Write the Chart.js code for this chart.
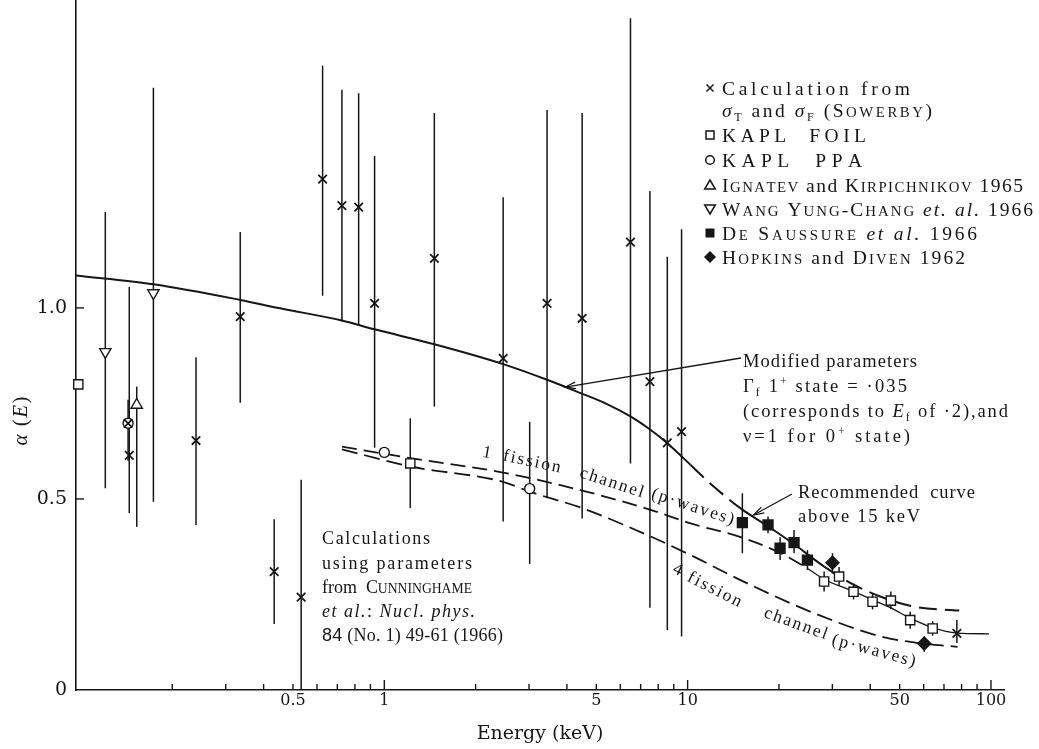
<!DOCTYPE html>
<html><head><meta charset="utf-8">
<style>html,body{margin:0;padding:0;background:#fff;}canvas{display:block;}</style>
<script src="https://cdn.jsdelivr.net/npm/chart.js@4.4.1/dist/chart.umd.min.js"></script>
</head><body>
<canvas id="c" width="1039" height="749"></canvas>
<script>
// ---------------- data (energy in keV, alpha) ----------------
const sowerbyE  = [0.1443, 0.143, 0.2395, 0.335, 0.4335, 0.532, 0.626, 0.725, 0.823, 0.929, 1.462, 2.465, 3.44, 4.49, 6.48, 7.51, 8.57, 9.55, 77.2];
const sowerbyA  = [0.614, 0.698, 0.653, 0.977, 0.310, 0.243, 1.337, 1.268, 1.264, 1.012, 1.130, 0.868, 1.012, 0.973, 1.172, 0.807, 0.647, 0.676, 0.148];
const sowerbyLo = [0.463, null, 0.432, 0.752, 0.173, 0.0, 1.032, 0.964, 0.955, 0.634, 0.742, 0.441, 0.502, 0.449, 0.593, 0.215, 0.157, 0.140, 0.123];
const sowerbyHi = [1.055, null, 0.871, 1.199, 0.447, 0.550, 1.634, 1.571, 1.562, 1.398, 1.510, 1.290, 1.518, 1.510, 1.758, 1.306, 1.134, 1.206, 0.183];

const foilE  = [0.098, 1.218, 28.18, 31.57, 35.23, 40.70, 46.77, 54.17, 64.23];
const foilA  = [0.80, 0.593, 0.284, 0.297, 0.257, 0.231, 0.234, 0.183, 0.161];
const foilLo = [null, 0.476, 0.258, 0.272, 0.237, 0.211, 0.212, 0.160, 0.142];
const foilHi = [null, 0.711, 0.310, 0.322, 0.278, 0.252, 0.258, 0.205, 0.180];

const ppaE  = [0.143, 1.0, 3.015];
const ppaA  = [0.698, 0.622, 0.527];
const ppaLo = [0.600, null, 0.330];
const ppaHi = [0.760, null, 0.702];

const ignatevE  = [0.1527];
const ignatevA  = [0.746];
const ignatevLo = [0.427];
const ignatevHi = [0.794];

const wangE  = [0.1203, 0.1733];
const wangA  = [0.885, 1.039];
const wangLo = [0.528, 0.493];
const wangHi = [1.251, 1.576];

const desaussureE  = [15.15, 18.41, 20.17, 22.43, 24.83];
const desaussureA  = [0.438, 0.432, 0.371, 0.386, 0.340];
const desaussureLo = [0.358, 0.410, 0.340, 0.358, 0.314];
const desaussureHi = [0.515, 0.454, 0.400, 0.419, 0.366];

const hopkinsE  = [30.03, 60.25];
const hopkinsA  = [0.333, 0.122];
const hopkinsLo = [0.305, 0.100];
const hopkinsHi = [0.358, 0.140];

const modifiedE = [0.0963, 0.1733, 0.335, 0.4536, 0.725, 0.929, 1.462, 2.465, 3.44, 4.44, 5.4, 6.48, 7.54, 8.57, 9.48, 10.23, 12.21, 15.15, 18.3, 22.4, 28.2, 35.4, 43.35, 55.8, 78.6];
const modifiedA = [1.085, 1.062, 1.021, 0.999, 0.967, 0.944, 0.905, 0.853, 0.812, 0.777, 0.749, 0.716, 0.681, 0.646, 0.614, 0.589, 0.532, 0.472, 0.430, 0.382, 0.323, 0.275, 0.244, 0.218, 0.208];

const fission1E = [0.725, 1.218, 2.465, 4.49, 7.59, 10.23, 14.96, 20.28, 24.83, 28.18, 35.2, 40.7, 46.8, 54.2, 64.2, 77.2, 98.5];
const fission1A = [0.637, 0.607, 0.569, 0.522, 0.471, 0.436, 0.400, 0.358, 0.318, 0.290, 0.258, 0.236, 0.215, 0.188, 0.163, 0.149, 0.147];

const fission4E = [0.725, 1.218, 2.465, 3.015, 4.49, 7.59, 10.23, 15.74, 26.12, 43.35, 58.7, 77.6];
const fission4A = [0.630, 0.585, 0.545, 0.519, 0.476, 0.401, 0.353, 0.279, 0.201, 0.140, 0.122, 0.113];

const xTickValues  = [0.2,0.3,0.4,0.5,0.6,0.7,0.8,0.9,1,2,3,4,5,6,7,8,9,10,20,30,40,50,60,70,80,90,100];
const xLabelValues = [0.5, 1, 5, 10, 50, 100];
const yTickValues  = [0, 0.5, 1.0];
const yTickLabels  = ['0', '0.5', '1.0'];

// ---------------- styling helpers ----------------
const SERIF = "'DejaVu Serif', 'Liberation Serif', serif";
const TEXT = "'Liberation Serif', 'DejaVu Serif', serif";
const SANS = "'Liberation Sans', 'DejaVu Sans', sans-serif";
const INK = '#161616';
const pts = (xs, ys) => xs.map((v, i) => ({x: v, y: ys[i]}));

function glyphs(ctx, runs, size) {
  const out = [];
  for (const r of runs) {
    const fam = r.sans ? SANS : TEXT;
    const base = (r.sub || r.sup) ? size * 0.62 : size;
    const dy = r.sub ? size * 0.22 : (r.sup ? -size * 0.38 : 0);
    for (const ch of r.t) {
      let s = base, c = ch;
      if (r.sc && ch !== ch.toUpperCase()) { s = base * 0.76; c = ch.toUpperCase(); }
      const f = (r.i ? 'italic ' : '') + (r.b ? 'bold ' : '') + s.toFixed(1) + 'px ' + fam;
      ctx.font = f;
      out.push({c, f, dy, w: ctx.measureText(c).width});
    }
  }
  return out;
}
function drawRich(ctx, x, y, runs, size, opt = {}) {
  const g = glyphs(ctx, runs, size);
  const nat = g.reduce((a, b) => a + b.w, 0);
  let sp = opt.spacing ?? 0;
  if (opt.width) sp = (opt.width - nat) / Math.max(1, g.length - 1);
  const total = nat + sp * (g.length - 1);
  let cx = opt.align === 'center' ? x - total / 2 : x;
  ctx.textBaseline = 'alphabetic';
  ctx.textAlign = 'left';
  for (const q of g) { ctx.font = q.f; ctx.fillText(q.c, cx, y + q.dy); cx += q.w + sp; }
}
function drawMarker(ctx, kind, x, y) {
  ctx.save();
  ctx.lineWidth = 1.5; ctx.strokeStyle = INK; ctx.fillStyle = INK;
  ctx.beginPath();
  if (kind === 'cross') { const r = 3.5; ctx.moveTo(x - r, y - r); ctx.lineTo(x + r, y + r); ctx.moveTo(x + r, y - r); ctx.lineTo(x - r, y + r); ctx.stroke(); }
  else if (kind === 'square') { ctx.rect(x - 4, y - 4, 8, 8); ctx.stroke(); }
  else if (kind === 'circle') { ctx.arc(x, y, 4.3, 0, Math.PI * 2); ctx.stroke(); }
  else if (kind === 'tri') { ctx.moveTo(x, y - 5); ctx.lineTo(x + 5.3, y + 4); ctx.lineTo(x - 5.3, y + 4); ctx.closePath(); ctx.stroke(); }
  else if (kind === 'itri') { ctx.moveTo(x, y + 5); ctx.lineTo(x + 5.3, y - 4); ctx.lineTo(x - 5.3, y - 4); ctx.closePath(); ctx.stroke(); }
  else if (kind === 'fsquare') { ctx.fillRect(x - 4.5, y - 4.5, 9, 9); }
  else if (kind === 'diamond') { ctx.moveTo(x, y - 6); ctx.lineTo(x + 6, y); ctx.lineTo(x, y + 6); ctx.lineTo(x - 6, y); ctx.closePath(); ctx.fill(); }
  ctx.restore();
}
function arrow(ctx, x1, y1, x2, y2) {
  ctx.save(); ctx.strokeStyle = INK; ctx.lineWidth = 1.3;
  ctx.beginPath(); ctx.moveTo(x1, y1); ctx.lineTo(x2, y2); ctx.stroke();
  const a = Math.atan2(y1 - y2, x1 - x2), L = 11;
  ctx.beginPath();
  ctx.moveTo(x2 + L * Math.cos(a + 0.3), y2 + L * Math.sin(a + 0.3)); ctx.lineTo(x2, y2);
  ctx.lineTo(x2 + L * Math.cos(a - 0.3), y2 + L * Math.sin(a - 0.3)); ctx.stroke();
  ctx.restore();
}

// ---------------- plugins ----------------
const errorBars = {
  id: 'errorBars',
  beforeDatasetsDraw(chart) {
    const {ctx, scales: {x, y}} = chart;
    ctx.save(); ctx.strokeStyle = INK; ctx.lineWidth = 1.5;
    chart.data.datasets.forEach(ds => {
      if (!ds.errLo) return;
      ds.data.forEach((p, j) => {
        const lo = ds.errLo[j], hi = ds.errHi[j];
        if (lo == null || hi == null) return;
        const px = x.getPixelForValue(p.x);
        ctx.beginPath(); ctx.moveTo(px, y.getPixelForValue(lo)); ctx.lineTo(px, y.getPixelForValue(hi)); ctx.stroke();
      });
    });
    ctx.restore();
  }
};

const legendRows = [
  {m: 'cross',   cy: 88,  w: 188, runs: [{t: 'Calculation from'}]},
  {m: null,      cy: 110, w: 210, runs: [{t: 'σ', i: true}, {t: 'T', sub: true}, {t: ' and '}, {t: 'σ', i: true}, {t: 'F', sub: true}, {t: ' ('}, {t: 'Sowerby', sc: true}, {t: ')'}]},
  {m: 'square',  cy: 135, w: 144, runs: [{t: 'KAPL  FOIL'}]},
  {m: 'circle',  cy: 160, w: 140, runs: [{t: 'KAPL  PPA'}]},
  {m: 'tri',     cy: 185, w: 301, runs: [{t: 'Ignatev', sc: true}, {t: ' and '}, {t: 'Kirpichnikov', sc: true}, {t: ' 1965'}]},
  {m: 'itri',    cy: 209, w: 311, runs: [{t: 'Wang Yung-Chang', sc: true}, {t: ' '}, {t: 'et. al.', i: true}, {t: ' 1966'}]},
  {m: 'fsquare', cy: 233, w: 255, runs: [{t: 'De Saussure', sc: true}, {t: ' '}, {t: 'et al.', i: true}, {t: ' 1966'}]},
  {m: 'diamond', cy: 257, w: 243, runs: [{t: 'Hopkins', sc: true}, {t: ' and '}, {t: 'Diven', sc: true}, {t: ' 1962'}]}
];
const modifiedNote = [
  {cy: 361, w: 174, runs: [{t: 'Modified parameters'}]},
  {cy: 386, w: 164, runs: [{t: 'Γ'}, {t: 'f', sub: true}, {t: ' 1'}, {t: '+', sup: true}, {t: ' state = ·035'}]},
  {cy: 411, w: 265, runs: [{t: '(corresponds to '}, {t: 'E', i: true}, {t: 'f', sub: true}, {t: ' of ·2),and'}]},
  {cy: 436, w: 167, runs: [{t: 'ν=1 for 0'}, {t: '+', sup: true}, {t: ' state)'}]}
];
const recommendedNote = [
  {cy: 492, w: 177, runs: [{t: 'Recommended  curve'}]},
  {cy: 516, w: 122, runs: [{t: 'above 15 keV'}]}
];
const cunninghameNote = [
  {cy: 538, w: 108, runs: [{t: 'Calculations'}]},
  {cy: 563, w: 150, runs: [{t: 'using parameters'}]},
  {cy: 587, w: 150, runs: [{t: 'from  '}, {t: 'Cunninghame', sc: true}]},
  {cy: 611, w: 153, runs: [{t: 'et al.', i: true}, {t: ': '}, {t: 'Nucl. phys.', i: true}]},
  {cy: 635, w: 181, runs: [{t: '84', sans: true}, {t: ' (No. 1) 49-61 (1966)'}]}
];
const curveLabels = [
  {x: 487, y: 452, a: 10, t: '1'}, {x: 532, y: 461, a: 12, t: 'fission'},
  {x: 612, y: 482, a: 18, t: 'channel'}, {x: 693, y: 506, a: 18, t: '(p·waves)'},
  {x: 678, y: 569, a: 25, t: '4'}, {x: 715, y: 589, a: 27, t: 'fission'},
  {x: 796, y: 623, a: 20, t: 'channel'}, {x: 874, y: 650, a: 15, t: '(p·waves)'}
];

const decor = {
  id: 'decor',
  afterDraw(chart) {
    const {ctx, chartArea: ca, scales: {x, y}} = chart;
    ctx.save();
    ctx.strokeStyle = INK; ctx.fillStyle = INK; ctx.lineWidth = 1.4;
    // inward tick marks
    x.ticks.forEach(t => {
      const px = x.getPixelForValue(t.value);
      const len = [1, 10, 100].includes(t.value) ? 10 : 6;
      ctx.beginPath(); ctx.moveTo(px, ca.bottom); ctx.lineTo(px, ca.bottom - len); ctx.stroke();
    });
    y.ticks.forEach(t => {
      if (t.value === 0) return;
      const py = y.getPixelForValue(t.value);
      ctx.beginPath(); ctx.moveTo(ca.left, py); ctx.lineTo(ca.left + 8, py); ctx.stroke();
    });
    // y-axis title
    ctx.save();
    ctx.translate(20, 421); ctx.rotate(-Math.PI / 2);
    drawRich(ctx, 0, 7, [{t: 'α', i: true}, {t: ' ('}, {t: 'E', i: true}, {t: ')'}], 21, {align: 'center', spacing: 1.5});
    ctx.restore();
    // legend
    legendRows.forEach(r => {
      if (r.m) drawMarker(ctx, r.m, 710, r.cy);
      drawRich(ctx, 722, r.cy + 6.5, r.runs, 19.5, {width: r.w});
    });
    // notes
    modifiedNote.forEach(r => drawRich(ctx, 743, r.cy + 6.2, r.runs, 18.5, {width: r.w}));
    recommendedNote.forEach(r => drawRich(ctx, 798, r.cy + 6.2, r.runs, 18.5, {width: r.w}));
    cunninghameNote.forEach(r => drawRich(ctx, 322, r.cy + 6.2, r.runs, 18, {width: r.w}));
    curveLabels.forEach(l => {
      ctx.save(); ctx.translate(l.x, l.y); ctx.rotate(l.a * Math.PI / 180);
      drawRich(ctx, 0, 5.5, [{t: l.t}], 17.5, {align: 'center', spacing: 2});
      ctx.restore();
    });
    // arrows pointing onto curves (tips from data coordinates)
    arrow(ctx, 741, 358, x.getPixelForValue(3.95), y.getPixelForValue(0.793));
    arrow(ctx, 792, 494, x.getPixelForValue(16.5), y.getPixelForValue(0.458));
    ctx.restore();
  }
};

// ---------------- chart ----------------
const markerBase = {showLine: false, borderColor: INK, pointBorderWidth: 1.4, clip: false};
new Chart(document.getElementById('c'), {
  type: 'scatter',
  data: {
    datasets: [
      {...markerBase, label: 'Calculation from σT and σF (Sowerby)', data: pts(sowerbyE, sowerbyA), errLo: sowerbyLo, errHi: sowerbyHi, pointStyle: 'crossRot', pointRadius: 6, pointBorderWidth: 1.8, backgroundColor: INK},
      {...markerBase, label: 'KAPL FOIL', data: pts(foilE, foilA), errLo: foilLo, errHi: foilHi, pointStyle: 'rect', pointRadius: 6.5, backgroundColor: '#fff'},
      {...markerBase, label: 'KAPL PPA', data: pts(ppaE, ppaA), errLo: ppaLo, errHi: ppaHi, pointStyle: 'circle', pointRadius: 5, backgroundColor: '#fff'},
      {...markerBase, label: 'Ignatev and Kirpichnikov 1965', data: pts(ignatevE, ignatevA), errLo: ignatevLo, errHi: ignatevHi, pointStyle: 'triangle', pointRadius: 6.5, backgroundColor: '#fff'},
      {...markerBase, label: 'Wang Yung-Chang et. al. 1966', data: pts(wangE, wangA), errLo: wangLo, errHi: wangHi, pointStyle: 'triangle', rotation: 180, pointRotation: 180, pointRadius: 6.5, backgroundColor: '#fff'},
      {...markerBase, label: 'De Saussure et al. 1966', data: pts(desaussureE, desaussureA), errLo: desaussureLo, errHi: desaussureHi, pointStyle: 'rect', pointRadius: 7, backgroundColor: INK},
      {...markerBase, label: 'Hopkins and Diven 1962', data: pts(hopkinsE, hopkinsA), errLo: hopkinsLo, errHi: hopkinsHi, pointStyle: 'rectRot', pointRadius: 6.5, backgroundColor: INK},
      {type: 'line', label: 'Modified parameters', data: pts(modifiedE, modifiedA), borderColor: INK, borderWidth: 2, pointRadius: 0, fill: false, cubicInterpolationMode: 'monotone',
        segment: {borderDash: c => { const a = c.p0.parsed.x; return ((a >= 10 && a < 15) || a >= 28) ? [18, 8] : undefined; }}},
      {type: 'line', label: '1 fission channel (p-waves)', data: pts(fission1E, fission1A), borderColor: INK, borderWidth: 1.8, pointRadius: 0, fill: false, cubicInterpolationMode: 'monotone',
        segment: {borderDash: c => c.p0.parsed.x < 24 ? [15, 7] : undefined, borderWidth: c => c.p0.parsed.x < 24 ? 1.8 : 1.3}},
      {type: 'line', label: '4 fission channel (p-waves)', data: pts(fission4E, fission4A), borderColor: INK, borderWidth: 1.8, pointRadius: 0, fill: false, borderDash: [16, 7], cubicInterpolationMode: 'monotone'}
    ]
  },
  options: {
    responsive: false,
    devicePixelRatio: 1,
    animation: false,
    events: [],
    layout: {autoPadding: false, padding: {left: 0, right: 35, top: 0, bottom: 0}},
    plugins: {legend: {display: false}, tooltip: {enabled: false}},
    scales: {
      x: {
        type: 'logarithmic', position: 'bottom', min: 0.0963, max: 110.4,
        afterBuildTicks: s => { s.ticks = xTickValues.map(v => ({value: v})); },
        afterFit: s => { s.height = 59; s.paddingLeft = 0; s.paddingRight = 0; },
        ticks: {autoSkip: false, maxRotation: 0, minRotation: 0, padding: 1, color: INK, font: {family: SERIF, size: 16},
          callback: v => xLabelValues.includes(v) ? String(v) : ''},
        grid: {display: false, drawTicks: false},
        border: {display: true, color: INK, width: 1.6},
        title: {display: true, text: 'Energy (keV)', color: INK, font: {family: SERIF, size: 19}, padding: {top: 0, bottom: 4}}
      },
      y: {
        type: 'linear', min: 0, max: 1.806,
        afterBuildTicks: s => { s.ticks = yTickValues.map(v => ({value: v})); },
        afterFit: s => { s.width = 76; s.paddingTop = 0; s.paddingBottom = 0; },
        ticks: {padding: 9, color: INK, font: {family: SERIF, size: 19}, callback: v => yTickLabels[yTickValues.indexOf(v)]},
        grid: {display: false, drawTicks: false},
        border: {display: true, color: INK, width: 1.6}
      }
    }
  },
  plugins: [errorBars, decor]
});
</script>
</body></html>
